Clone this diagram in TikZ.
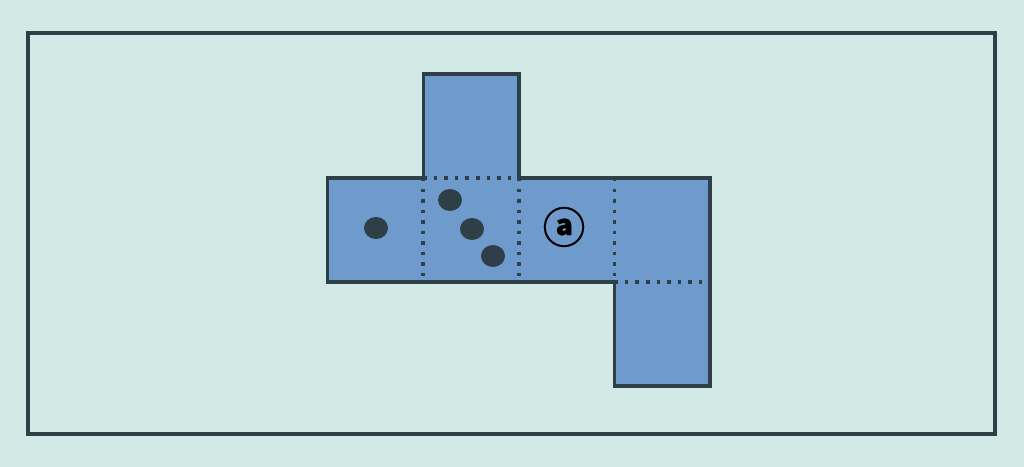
\documentclass[tikz,border=0pt]{standalone}
\usepackage{fontspec}
\newfontfamily\symfont[FakeBold=0.6]{Noto Sans CJK JP}
\usetikzlibrary{positioning,shapes.geometric}
\definecolor{bgteal}{HTML}{D1EAE6}
\definecolor{faceblue}{HTML}{6F9ACC}
\definecolor{slate}{HTML}{2F3F48}
\tikzset{
  every picture/.style={line join=miter},
  face/.style={fill=faceblue, minimum width=0.955cm, minimum height=1.04cm, inner sep=0pt, outer sep=0pt},
  fold/.style={slate, line width=1.05pt, dash pattern=on 1pt off 2pt},
  netedge/.style={slate, line width=1pt},
  frame/.style={slate, line width=1.4pt},
  pip/.style={ellipse, fill=slate, minimum width=0.24cm, minimum height=0.22cm, inner sep=0pt},
}

\begin{document}
\begin{tikzpicture}[x=0.01cm,y=-0.01cm]
\fill[bgteal] (0,0) rectangle (1024,467);
\useasboundingbox (0,0) rectangle (1024,467);
\draw[frame] (28,33) rectangle (995,434);
% faces of the net
\node[face] (left) at (375.5,230) {};
\node[face, right=0pt of left] (mid) {};
\node[face, right=0pt of mid] (lab) {};
\node[face, right=0pt of lab] (endf) {};
\node[face, above=0pt of mid] (top) {};
\node[face, below=0pt of endf] (bot) {};
\node (mark) at (564,227) {\fontsize{12}{12}\bfseries\symfont ⓐ};
% folds
\draw[fold] (mid.north west)--(mid.north east);
\draw[fold] (mid.north west)--(mid.south west);
\draw[fold] (mid.north east)--(mid.south east);
\draw[fold] (lab.north east)--(lab.south east);
\draw[fold] (endf.south west)--(endf.south east);
% outline
\draw[netedge] (left.north west)--(top.south west)--(top.north west)--(top.north east)
  --(top.south east)--(endf.north east)--(bot.south east)--(bot.south west)
  --(bot.north west)--(left.south west)--cycle;
% pips
\node[pip] (p1) at (376,228) {};
\foreach \n/\x/\y in {2/450/200, 3/472/229, 4/493/256}{
  \node[pip] (p\n) at (\x,\y) {};
}
\end{tikzpicture}
\end{document}
